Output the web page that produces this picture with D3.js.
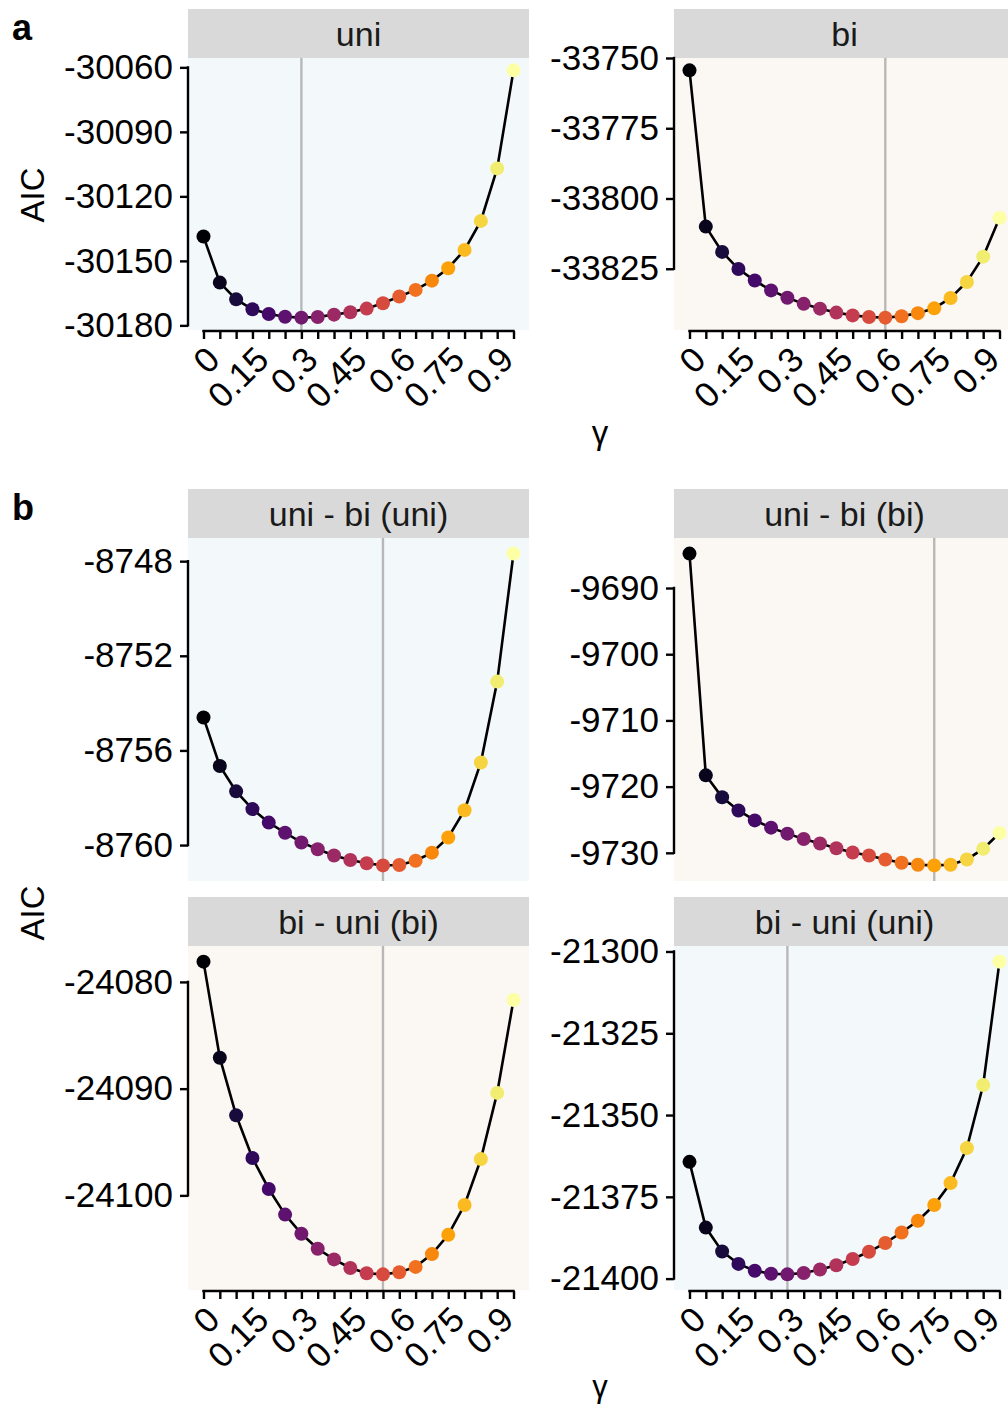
<!DOCTYPE html>
<html>
<head>
<meta charset="utf-8">
<script src="https://cdn.jsdelivr.net/npm/d3@7"></script>
<style>
  body { margin: 0; background: #fff; }
  svg { display: block; font-family: "Liberation Sans", Arial, sans-serif; }
</style>
</head>
<body>
<div id="chart"></div>
<script>
// gamma grid shared by all panels
const gamma = [0, 0.05, 0.1, 0.15, 0.2, 0.25, 0.3, 0.35, 0.4, 0.45,
               0.5, 0.55, 0.6, 0.65, 0.7, 0.75, 0.8, 0.85, 0.9, 0.95];
const gammaLabels = [0, 0.15, 0.3, 0.45, 0.6, 0.75, 0.9];

const panelTitles = ['uni', 'bi', 'uni - bi (uni)', 'uni - bi (bi)', 'bi - uni (bi)', 'bi - uni (uni)'];
const panelModel = ['uni', 'bi', 'uni', 'bi', 'bi', 'uni'];
const bestGamma = [0.3, 0.6, 0.55, 0.75, 0.55, 0.3];

const aicUni = [-30138.7, -30160.1, -30167.9, -30172.5, -30174.7, -30176.0, -30176.4, -30176.1, -30175.0, -30173.9,
                -30172.2, -30169.7, -30166.6, -30163.5, -30159.2, -30153.4, -30144.9, -30131.4, -30107.0, -30061.4];
const aicBi = [-33754.4, -33810.0, -33819.0, -33825.1, -33829.2, -33832.7, -33835.3, -33837.5, -33839.2, -33840.6,
               -33841.6, -33842.2, -33842.4, -33841.9, -33840.8, -33839.1, -33835.4, -33829.7, -33820.7, -33806.9];
const aicUniBiUni = [-8754.61, -8756.66, -8757.73, -8758.48, -8759.05, -8759.48, -8759.89, -8760.18, -8760.44, -8760.63,
                     -8760.77, -8760.86, -8760.84, -8760.66, -8760.32, -8759.68, -8758.53, -8756.51, -8753.09, -8747.68];
const aicUniBiBi = [-9684.8, -9718.3, -9721.6, -9723.6, -9725.1, -9726.2, -9727.1, -9727.9, -9728.6, -9729.3,
                    -9729.95, -9730.4, -9731.0, -9731.5, -9731.8, -9731.9, -9731.8, -9731.0, -9729.4, -9727.0];
const aicBiUniBi = [-24078.1, -24087.1, -24092.5, -24096.5, -24099.4, -24101.8, -24103.6, -24105.0, -24106.0, -24106.8,
                    -24107.3, -24107.4, -24107.2, -24106.7, -24105.5, -24103.7, -24100.9, -24096.6, -24090.4, -24081.7];
const aicBiUniUni = [-21364.3, -21384.4, -21391.7, -21395.5, -21397.6, -21398.5, -21398.7, -21398.3, -21397.2, -21395.9,
                     -21394.0, -21391.8, -21389.1, -21385.9, -21382.3, -21377.5, -21370.8, -21360.1, -21340.8, -21303.1];
const panelValues = [aicUni, aicBi, aicUniBiUni, aicUniBiBi, aicBiUniBi, aicBiUniUni];

const yTicks = [
  [-30060, -30090, -30120, -30150, -30180],
  [-33750, -33775, -33800, -33825],
  [-8748, -8752, -8756, -8760],
  [-9690, -9700, -9710, -9720, -9730],
  [-24080, -24090, -24100],
  [-21300, -21325, -21350, -21375, -21400]
];

const W = 1008, H = 1407;
const svg = d3.select('#chart').append('svg').attr('width', W).attr('height', H);

// layout of the facets
const colX = [188, 674];
const panelW = 341;
const stripH = 49;
const rows = [
  {strip: 9, top: 58, bottom: 330, xAxis: true},
  {strip: 489, top: 538, bottom: 881, xAxis: false},
  {strip: 897, top: 946, bottom: 1290, xAxis: true}
];
const bgCol = {uni: '#f3f8fb', bi: '#fbf7f3'};
const color = i => d3.interpolateInferno(i / (gamma.length - 1));

function drawPanel(p) {
  let row = rows[Math.floor(p / 2)];
  let left = colX[p % 2];
  let vals = panelValues[p];
  let g = svg.append('g');

  let x = d3.scaleLinear()
    .domain([-0.0475, 0.9975])
    .range([left, left + panelW]);
  let ext = d3.extent(vals);
  let pad = (ext[1] - ext[0]) * 0.05;
  let y = d3.scaleLinear()
    .domain([ext[0] - pad, ext[1] + pad])
    .range([row.bottom, row.top]);

  // strip
  g.append('rect').attr('x', left).attr('y', row.strip)
    .attr('width', panelW).attr('height', stripH).attr('fill', '#d9d9d9');
  g.append('text').attr('x', left + panelW / 2).attr('y', row.strip + stripH / 2)
    .attr('dy', '0.36em').attr('text-anchor', 'middle')
    .attr('font-size', 34).attr('fill', '#1a1a1a').text(panelTitles[p]);

  // panel background
  g.append('rect').attr('x', left).attr('y', row.top)
    .attr('width', panelW).attr('height', row.bottom - row.top)
    .attr('fill', bgCol[panelModel[p]]);

  // best gamma marker
  g.append('line')
    .attr('x1', x(bestGamma[p])).attr('x2', x(bestGamma[p]))
    .attr('y1', row.top).attr('y2', row.bottom)
    .attr('stroke', '#b8b8b8').attr('stroke-width', 2.4);

  let line = d3.line().x((d, i) => x(gamma[i])).y(d => y(d));
  g.append('path').datum(vals).attr('d', line)
    .attr('fill', 'none').attr('stroke', '#000').attr('stroke-width', 2.6);

  g.selectAll('circle').data(vals).enter().append('circle')
    .attr('cx', (d, i) => x(gamma[i]))
    .attr('cy', d => y(d))
    .attr('r', 7)
    .attr('fill', (d, i) => color(i));

  // y axis (capped at outer ticks)
  let ticks = yTicks[p];
  let yAxis = g.append('g').attr('transform', 'translate(' + left + ',0)')
    .call(d3.axisLeft(y).tickValues(ticks).tickSize(8).tickPadding(7).tickFormat(d => String(d)));
  yAxis.select('.domain').remove();
  yAxis.append('line')
    .attr('x1', 0).attr('x2', 0)
    .attr('y1', y(d3.max(ticks)) - 1.2).attr('y2', y(d3.min(ticks)) + 1.2)
    .attr('stroke', '#000').attr('stroke-width', 2.4);
  yAxis.selectAll('.tick line').attr('stroke', '#000').attr('stroke-width', 2.4);
  yAxis.selectAll('.tick text').attr('font-size', 35).attr('fill', '#000')
    .attr('font-family', '"Liberation Sans", Arial, sans-serif');

  if (row.xAxis) {
    let xAxis = g.append('g').attr('transform', 'translate(0,' + (row.bottom + 1) + ')')
      .call(d3.axisBottom(x).tickValues(gamma).tickSize(8)
        .tickFormat(d => gammaLabels.some(v => Math.abs(v - d) < 1e-9) ? String(d) : ''));
    xAxis.select('.domain').remove();
    xAxis.append('line')
      .attr('x1', x(gamma[0]) - 1.2).attr('x2', x(gamma[gamma.length - 1]) + 1.2)
      .attr('y1', 0).attr('y2', 0)
      .attr('stroke', '#000').attr('stroke-width', 2.4);
    xAxis.selectAll('.tick line').attr('stroke', '#000').attr('stroke-width', 2.4);
    xAxis.selectAll('.tick text')
      .attr('font-size', 35).attr('fill', '#000')
      .attr('font-family', '"Liberation Sans", Arial, sans-serif')
      .attr('text-anchor', 'end')
      .attr('y', 0).attr('dy', '0.72em')
      .attr('transform', 'translate(0,13) rotate(-45)');
  }
}

for (let p = 0; p < 6; p++) drawPanel(p);

// axis titles and tags
function label(txt, xPos, yPos, opts) {
  let t = svg.append('text').attr('x', xPos).attr('y', yPos)
    .attr('text-anchor', opts.anchor || 'middle')
    .attr('font-size', opts.size).attr('fill', '#000')
    .attr('font-weight', opts.weight || 'normal')
    .text(txt);
  if (opts.rotate) t.attr('transform', 'rotate(-90,' + xPos + ',' + yPos + ')');
  return t;
}
label('AIC', 44, 195, {size: 33, rotate: true});
label('AIC', 44, 913, {size: 33, rotate: true});
label('γ', 600, 444, {size: 33});
label('γ', 600, 1397, {size: 31});
label('a', 12, 40, {size: 36, weight: 'bold', anchor: 'start'});
label('b', 12, 520, {size: 36, weight: 'bold', anchor: 'start'});
</script>
</body>
</html>
